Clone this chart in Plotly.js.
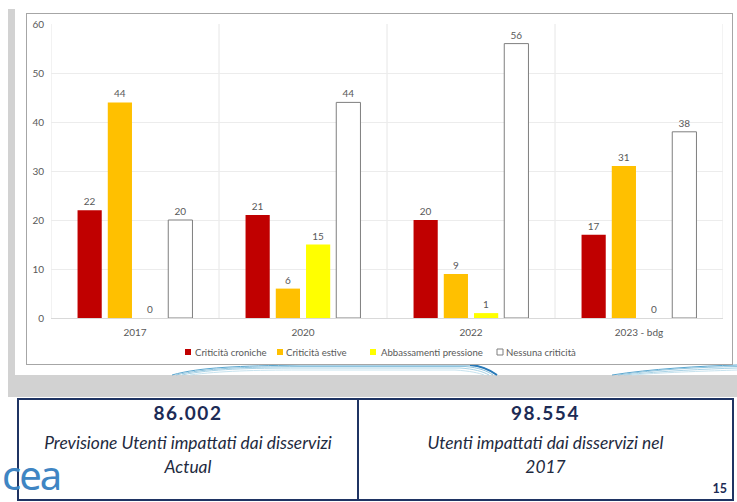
<!DOCTYPE html>
<html>
<head>
<meta charset="utf-8">
<script src="https://cdn.plot.ly/plotly-3.0.1.min.js"></script>
<style>
  html, body { margin: 0; padding: 0; background: #ffffff; }
  #slide { position: relative; width: 737px; height: 502px; overflow: hidden; background: #ffffff; font-family: Lato, "Open Sans", sans-serif; }
  .abs { position: absolute; }
  #chart { position: absolute; left: 0; top: 0; width: 737px; height: 502px; }
  .box { position: absolute; border: 2px solid #1f3463; box-sizing: border-box; background: #fff; }
  .big { position: absolute; width: 100%; text-align: center; font-weight: bold; font-size: 19px; line-height: 23px; letter-spacing: 1.6px; color: #1c2b55; }
  .it { position: absolute; width: 100%; text-align: center; font-style: italic; font-size: 17.4px; line-height: 20px; color: #1e2a40; }
</style>
</head>
<body>
<div id="slide">
  <div class="abs" style="left:8px;top:9px;width:7px;height:366px;background:#d2d2d2;"></div>
  <div class="abs" style="left:8px;top:375px;width:729px;height:22px;background:#d2d2d2;"></div>
  <svg class="abs" style="left:0;top:355px;" width="737" height="22">
    <g fill="none" stroke-width="1">
      <path d="M172,20 C200,12 240,11 300,10 L470,10 C482,11 490,15 497,20" stroke="#5aa6cf"/>
      <path d="M176,20 C205,13 245,12 300,11.5 L465,11.5 C479,12.5 487,16 493,20" stroke="#8fc4de"/>
      <path d="M182,20 C210,14 250,13 300,13 L460,13 C474,14 483,16.5 489,20" stroke="#a9d3e6"/>
      <path d="M190,20 C220,16 255,15 300,15 L455,15 C470,16 479,18 484,20" stroke="#c7e3ef"/>
      <path d="M470,10 C482,11 490,15 497,20" stroke="#2a7ab8" stroke-width="2"/>
      <path d="M612,20 C650,14 700,11 737,10" stroke="#5aa6cf"/>
      <path d="M618,20 C655,14.5 702,12 737,11.5" stroke="#8fc4de"/>
      <path d="M624,20 C662,16 706,14 737,13" stroke="#a9d3e6"/>
      <path d="M632,20 C670,17 710,16 737,15" stroke="#c7e3ef"/>
    </g>
  </svg>
  <div class="abs" style="left:26px;top:13px;width:707px;height:352px;border:1px solid #a6a6a6;box-sizing:border-box;background:#fff;"></div>
  <div id="chart"></div>
  <div class="box" style="left:17px;top:398px;width:342px;height:103px;">
    <div class="big" style="top:1px;">86.002</div>
    <div class="it" style="top:33px;">Previsione Utenti impattati dai disservizi</div>
    <div class="it" style="top:57px;">Actual</div>
  </div>
  <div class="box" style="left:357px;top:398px;width:377px;height:103px;">
    <div class="big" style="top:1px;">98.554</div>
    <div class="it" style="top:33px;">Utenti impattati dai disservizi nel</div>
    <div class="it" style="top:57px;">2017</div>
    <div class="abs" style="right:5px;top:81px;font-size:12.5px;font-weight:bold;color:#1c2b55;">15</div>
  </div>
  <div class="abs" style="left:2px;top:447px;font-size:40px;line-height:normal;color:#3f85c3;font-family:'Noto Sans',sans-serif;letter-spacing:-2px;">cea</div>
</div>
<script>
const categories = ["2017", "2020", "2022", "2023 - bdg"];
const criticitaCroniche = [22, 21, 20, 17];
const criticitaEstive = [44, 6, 9, 31];
const abbassamentiPressione = [0, 15, 1, 0];
const nessunaCriticita = [20, 44, 56, 38];
const seriesNames = ["Criticità croniche", "Criticità estive", "Abbassamenti pressione", "Nessuna criticità"];
const yTicks = [0, 10, 20, 30, 40, 50, 60];

const fills = ["#c00000", "#ffc000", "#ffff00", "#ffffff"];
const outlines = ["#c00000", "#ffc000", "#ffff00", "#7f7f7f"];
const labelFont = {family: "Lato, 'Open Sans', sans-serif", size: 10, color: "#595959"};

function mk(i, vals) {
  return {
    type: "bar", name: seriesNames[i], x: categories, y: vals,
    text: vals.map(String), textposition: "outside", textfont: labelFont,
    cliponaxis: false,
    marker: {color: fills[i], line: {color: outlines[i], width: i === 3 ? 1 : 0}},
    hoverinfo: "x+y"
  };
}
const data = [
  mk(0, criticitaCroniche),
  mk(1, criticitaEstive),
  mk(2, abbassamentiPressione),
  mk(3, nessunaCriticita)
];

// plot-area pixel geometry (for placing the legend in paper units)
const L = 51, R = 723, T = 24, B = 318;
const px2x = p => (p - L) / (R - L);
const py2y = p => (B - p) / (B - T);

const vlines = [-0.5, 0.5, 1.5, 2.5, 3.5].map(v => ({
  type: "line", xref: "x", yref: "paper", x0: v, x1: v, y0: 0, y1: 1,
  line: {color: "#e6e6e6", width: 1}, layer: "below"
}));

// custom compact legend (small squares + labels), as in the reference
const legendSquareX = [185, 277, 370, 497];
const legendTextX = [192.5, 284, 379, 504];
const legendY = 352;
const legendShapes = seriesNames.map((n, i) => ({
  type: "rect", xref: "paper", yref: "paper",
  x0: px2x(legendSquareX[i]), x1: px2x(legendSquareX[i] + 6),
  y0: py2y(legendY + 3), y1: py2y(legendY - 3),
  fillcolor: fills[i], line: {color: outlines[i], width: i === 3 ? 1 : 0}
}));
const legendAnn = seriesNames.map((n, i) => ({
  xref: "paper", yref: "paper", x: px2x(legendTextX[i]), y: py2y(legendY),
  xanchor: "left", yanchor: "middle", showarrow: false, text: n,
  font: {family: labelFont.family, size: 9.6, color: "#595959"}
}));

const layout = {
  width: 737, height: 502,
  margin: {l: L, r: 737 - R, t: T, b: 502 - B, pad: 0},
  paper_bgcolor: "rgba(0,0,0,0)", plot_bgcolor: "rgba(0,0,0,0)",
  font: labelFont,
  barmode: "group", bargap: 0.28, bargroupgap: 0.2,
  showlegend: false,
  xaxis: {type: "category", range: [-0.5, 3.5], showgrid: false, zeroline: false, showline: false,
          ticks: "", tickfont: labelFont, ticklabelstandoff: 7},
  yaxis: {range: [0, 60], tickvals: yTicks, showgrid: true, gridcolor: "#ececec", gridwidth: 1,
          zeroline: true, zerolinecolor: "#d9d9d9", zerolinewidth: 1, showline: false,
          ticks: "", tickfont: labelFont, ticklabelstandoff: 6},
  shapes: vlines.concat(legendShapes),
  annotations: legendAnn
};
Plotly.newPlot("chart", data, layout, {displayModeBar: false, staticPlot: true});
</script>
</body>
</html>
